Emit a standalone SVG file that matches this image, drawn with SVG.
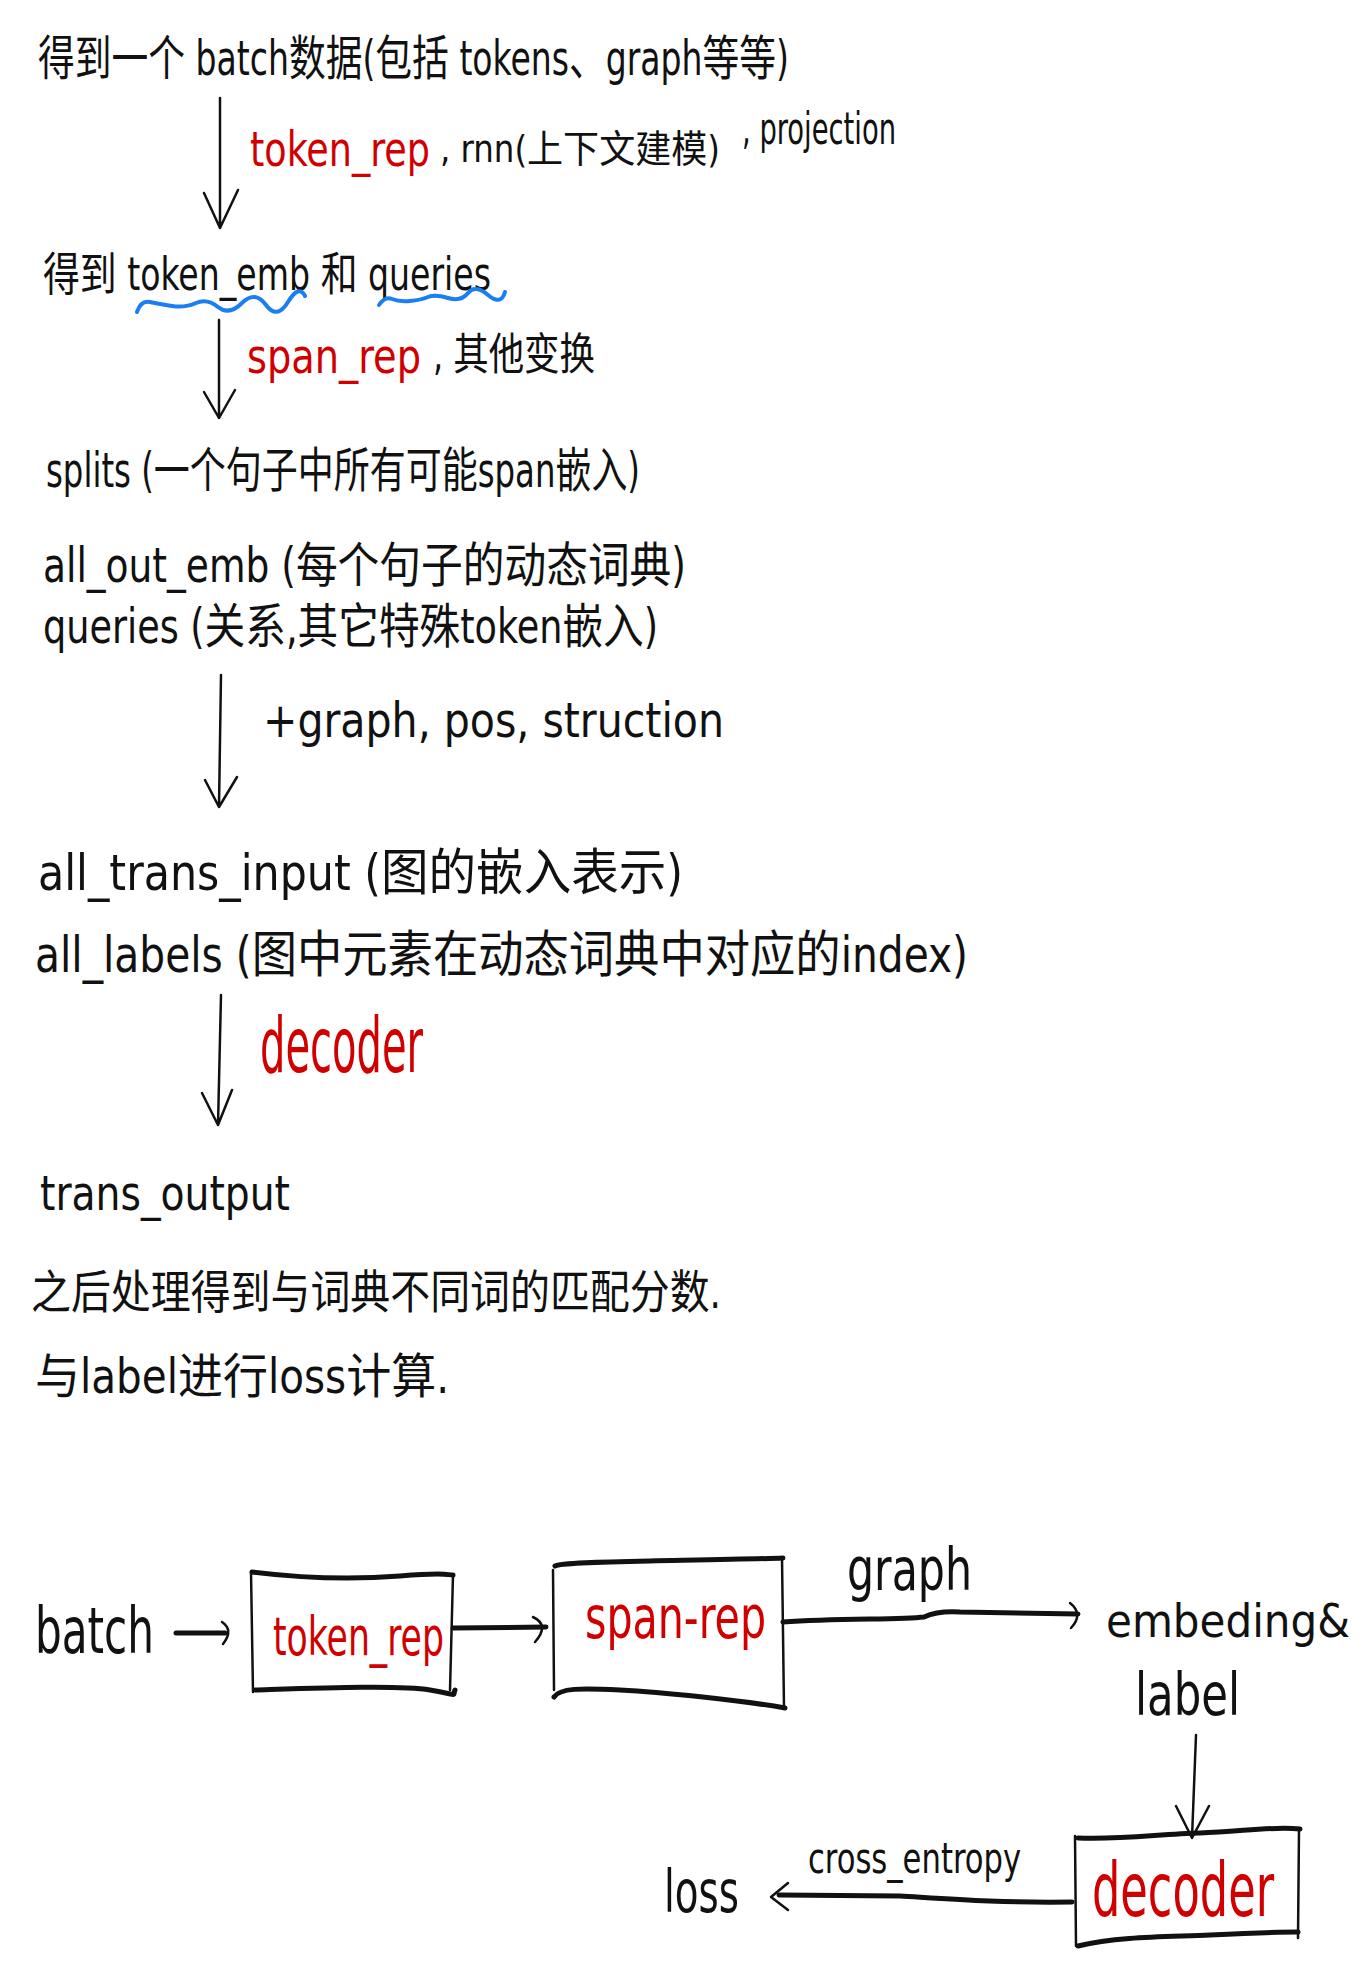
<svg xmlns="http://www.w3.org/2000/svg" width="1372" height="1964" viewBox="0 0 1372 1964">
  <style>
    text { font-family: "DejaVu Sans Condensed", "DejaVu Sans", "Noto Sans CJK SC", sans-serif; fill: #111; }
    .red { fill: #d00000; }
    .line { fill: none; stroke: #111; stroke-width: 2.5; stroke-linecap: round; stroke-linejoin: round; }
    .thick { fill: none; stroke: #111; stroke-width: 5; stroke-linecap: round; stroke-linejoin: round; }
    .wave { fill: none; stroke: #1a7ff0; stroke-width: 4; stroke-linecap: round; stroke-linejoin: round; }
  </style>

  <rect width="1372" height="1964" fill="#ffffff"/>

  <!-- step-by-step notes -->
  <g id="step-batch">
    <text x="38" y="75" font-size="48" textLength="751" lengthAdjust="spacingAndGlyphs">得到一个 batch数据(包括 tokens、graph等等)</text>
  </g>
  <g id="label-token-rep">
    <text class="red" x="250" y="166" font-size="48" textLength="180" lengthAdjust="spacingAndGlyphs">token_rep</text>
    <text x="440" y="162" font-size="38" textLength="280" lengthAdjust="spacingAndGlyphs">, rnn(上下文建模)</text>
    <text x="742" y="144" font-size="44" textLength="154" lengthAdjust="spacingAndGlyphs">, projection</text>
  </g>
  <g id="step-token-emb">
    <text x="43" y="290" font-size="46" textLength="448" lengthAdjust="spacingAndGlyphs">得到 token_emb 和 queries</text>
    <path class="wave" d="M137,312 Q141,300 150,302 T172,306 T196,303 T218,307 T242,303 T266,305 T288,302 T305,296"/>
    <path class="wave" d="M379,305 Q385,296 392,299 T410,301 T428,297 T448,298 T468,293 T488,295 T505,292"/>
  </g>
  <g id="label-span-rep">
    <text class="red" x="247" y="373" font-size="48" textLength="174" lengthAdjust="spacingAndGlyphs">span_rep</text>
    <text x="433" y="370" font-size="44" textLength="162" lengthAdjust="spacingAndGlyphs">, 其他变换</text>
  </g>
  <g id="step-splits">
    <text x="46" y="487" font-size="48" textLength="594" lengthAdjust="spacingAndGlyphs">splits (一个句子中所有可能span嵌入)</text>
    <text x="43" y="582" font-size="48" textLength="643" lengthAdjust="spacingAndGlyphs">all_out_emb (每个句子的动态词典)</text>
    <text x="43" y="643" font-size="48" textLength="615" lengthAdjust="spacingAndGlyphs">queries (关系,其它特殊token嵌入)</text>
  </g>
  <g id="label-graph-pos">
    <text x="263" y="737" font-size="48" textLength="461" lengthAdjust="spacingAndGlyphs">+graph, pos, struction</text>
  </g>
  <g id="step-trans-input">
    <text x="38" y="890" font-size="50" textLength="645" lengthAdjust="spacingAndGlyphs">all_trans_input (图的嵌入表示)</text>
    <text x="35" y="972" font-size="50" textLength="933" lengthAdjust="spacingAndGlyphs">all_labels (图中元素在动态词典中对应的index)</text>
  </g>
  <g id="label-decoder">
    <text class="red" x="260" y="1072" font-size="76" textLength="163" lengthAdjust="spacingAndGlyphs">decoder</text>
  </g>
  <g id="step-output">
    <text x="40" y="1210" font-size="48" textLength="250" lengthAdjust="spacingAndGlyphs">trans_output</text>
    <text x="31" y="1308" font-size="46" textLength="690" lengthAdjust="spacingAndGlyphs">之后处理得到与词典不同词的匹配分数.</text>
    <text x="35" y="1393" font-size="48" textLength="414" lengthAdjust="spacingAndGlyphs">与label进行loss计算.</text>
  </g>

  <!-- pipeline sketch -->
  <g id="node-batch">
    <text x="35" y="1653" font-size="64" textLength="119" lengthAdjust="spacingAndGlyphs">batch</text>
  </g>
  <g id="node-token-rep">
    <path class="thick" d="M252,1572 C300,1578 350,1580 400,1576 S445,1575 453,1575"/>
    <path class="line" d="M453,1575 L450,1690"/>
    <path class="thick" d="M255,1690 C320,1688 400,1685 430,1690 S452,1697 455,1690"/>
    <path class="line" d="M251,1572 L253,1692"/>
    <text class="red" x="273" y="1655" font-size="54" textLength="171" lengthAdjust="spacingAndGlyphs">token_rep</text>
  </g>
  <g id="node-span-rep">
    <path class="thick" d="M555,1566 C560,1563 600,1562 650,1561 S760,1559 783,1558"/>
    <path class="line" d="M782,1558 L784,1708"/>
    <path class="thick" d="M554,1697 C560,1688 580,1688 620,1690 S740,1700 785,1708"/>
    <path class="line" d="M553,1570 L554,1690"/>
    <text class="red" x="585" y="1638" font-size="58" textLength="181" lengthAdjust="spacingAndGlyphs">span-rep</text>
  </g>
  <g id="node-embedding-label">
    <text x="1106" y="1637" font-size="46" textLength="244" lengthAdjust="spacingAndGlyphs">embeding&amp;</text>
    <text x="1135" y="1715" font-size="58" textLength="105" lengthAdjust="spacingAndGlyphs">label</text>
  </g>
  <g id="node-decoder">
    <path class="thick" d="M1078,1838 C1120,1840 1160,1834 1200,1833 S1270,1826 1300,1829"/>
    <path class="line" d="M1299,1829 L1298,1938"/>
    <path class="thick" d="M1078,1946 C1120,1936 1170,1937 1210,1935 S1280,1932 1298,1932"/>
    <path class="line" d="M1075,1836 L1076,1946"/>
    <text class="red" x="1092" y="1916" font-size="74" textLength="182" lengthAdjust="spacingAndGlyphs">decoder</text>
  </g>
  <g id="node-loss">
    <text x="664" y="1912" font-size="58" textLength="75" lengthAdjust="spacingAndGlyphs">loss</text>
  </g>

  <!-- arrows -->
  <g id="connectors">
    <path class="line" d="M220,98 L220,228 M204,193 L220,228 L238,190"/>
    <path class="line" d="M219,320 L219,418 M204,392 L219,418 L235,390"/>
    <path class="line" d="M221,675 L219,807 M205,780 L219,807 L237,777"/>
    <path class="line" d="M221,995 L218,1125 M202,1093 L218,1125 L232,1090"/>

    <path class="thick" d="M176,1633 L225,1633"/>
    <path class="line" d="M222,1622 Q234,1630 223,1644"/>
    <path class="thick" d="M453,1628 L546,1627"/>
    <path class="line" d="M533,1617 Q550,1625 535,1642"/>
    <path class="thick" d="M783,1622 C840,1618 900,1620 924,1617 C935,1612 945,1611 960,1612 L1078,1614"/>
    <path class="line" d="M1070,1603 Q1084,1614 1071,1628"/>
    <text x="847" y="1590" font-size="58" textLength="125" lengthAdjust="spacingAndGlyphs">graph</text>
    <path class="line" d="M1196,1735 L1192,1838 M1176,1806 L1192,1838 L1209,1806"/>
    <path class="thick" d="M1072,1902 C1000,1903 950,1899 900,1896 L779,1895"/>
    <path class="line" d="M788,1883 L771,1897 L788,1910"/>
    <text x="808" y="1873" font-size="42" textLength="213" lengthAdjust="spacingAndGlyphs">cross_entropy</text>
  </g>
</svg>
